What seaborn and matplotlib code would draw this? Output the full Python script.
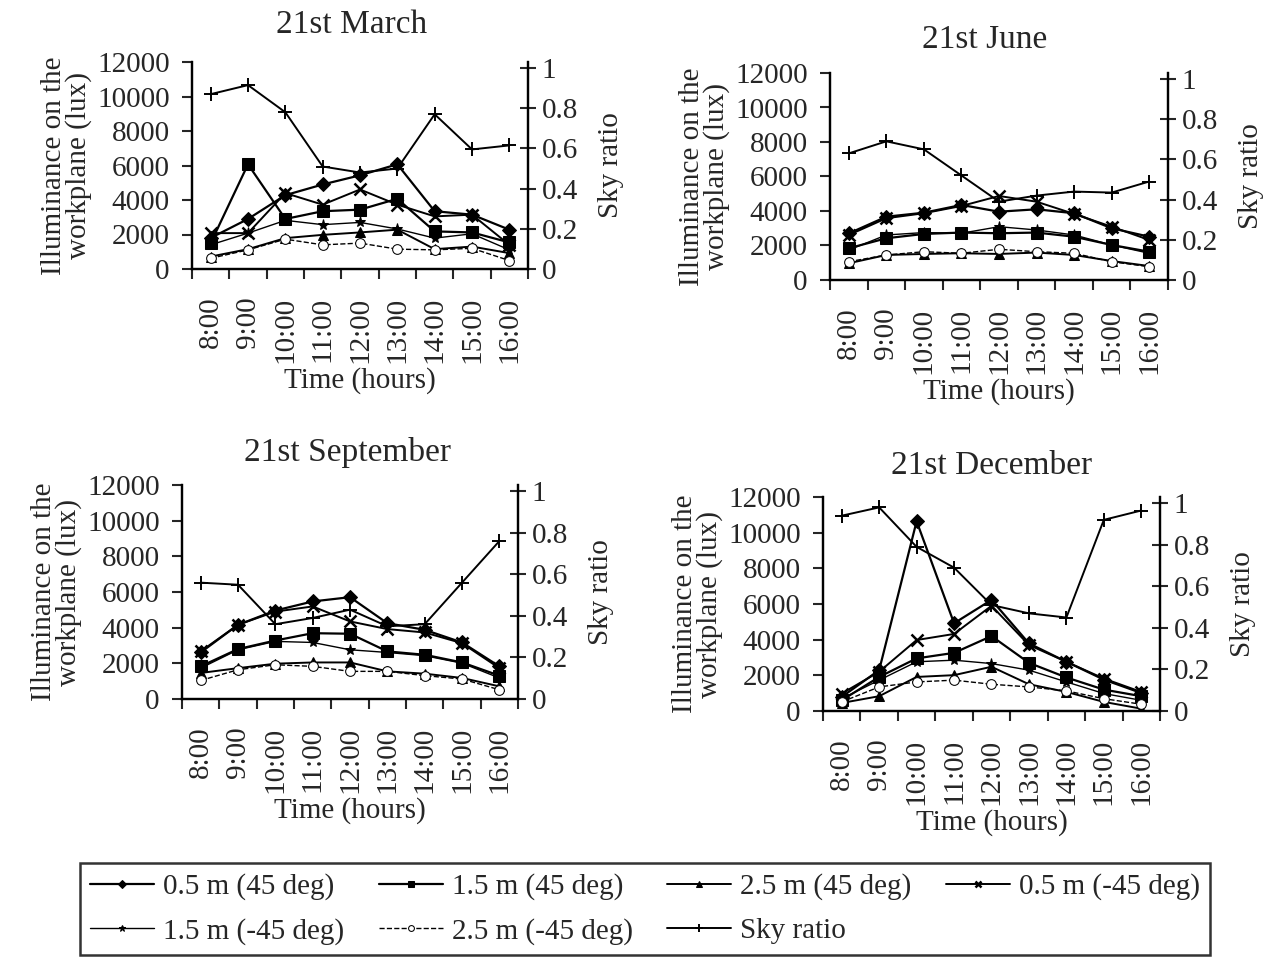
import pandas as pd
import matplotlib
matplotlib.use("Agg")
import matplotlib.pyplot as plt
import seaborn as sns
import numpy as np

hours = ["8:00", "9:00", "10:00", "11:00", "12:00", "13:00", "14:00", "15:00", "16:00"]

series_names = ["0.5 m (45 deg)", "1.5 m (45 deg)", "2.5 m (45 deg)",
                "0.5 m (-45 deg)", "1.5 m (-45 deg)", "2.5 m (-45 deg)"]

# 21st March
mar_05_p45 = [1800, 2900, 4280, 4900, 5430, 6070, 3350, 3150, 2280]
mar_15_p45 = [1500, 6070, 2900, 3350, 3440, 4070, 2180, 2120, 1540]
mar_25_p45 = [720, 1150, 1790, 1980, 2120, 2280, 1150, 1300, 920]
mar_05_m45 = [2080, 2080, 4400, 3730, 4610, 3730, 3050, 3150, 1400]
mar_15_m45 = [1400, 2080, 2820, 2570, 2700, 2320, 1790, 2040, 1110]
mar_25_m45 = [620, 1110, 1730, 1400, 1500, 1150, 1110, 1200, 490]
mar_sky = [0.87, 0.915, 0.78, 0.51, 0.48, 0.50, 0.77, 0.595, 0.615]

# 21st June
jun_05_p45 = [2700, 3670, 3900, 4350, 3960, 4100, 3870, 3000, 2510]
jun_15_p45 = [1840, 2420, 2670, 2750, 2710, 2750, 2510, 2030, 1640]
jun_25_p45 = [970, 1450, 1510, 1550, 1510, 1590, 1450, 1100, 810]
jun_05_m45 = [2610, 3580, 3870, 4290, 4870, 4540, 3830, 3090, 2320]
jun_15_m45 = [1740, 2610, 2750, 2710, 3090, 2900, 2610, 2030, 1550]
jun_25_m45 = [1060, 1450, 1640, 1550, 1780, 1640, 1550, 1060, 770]
jun_sky = [0.63, 0.69, 0.65, 0.52, 0.39, 0.42, 0.44, 0.435, 0.49]

# 21st September
sep_05_p45 = [2610, 4160, 4960, 5470, 5710, 4250, 3880, 3170, 1830]
sep_15_p45 = [1830, 2800, 3280, 3690, 3660, 2670, 2480, 2050, 1310]
sep_25_p45 = [1460, 1730, 1980, 2050, 2050, 1550, 1420, 1180, 710]
sep_05_m45 = [2670, 4160, 4900, 5190, 4350, 3920, 3730, 3130, 1730]
sep_15_m45 = [1730, 2760, 3230, 3170, 2760, 2610, 2430, 2010, 1180]
sep_25_m45 = [1040, 1640, 1920, 1830, 1550, 1550, 1310, 1120, 520]
sep_sky = [0.56, 0.55, 0.36, 0.39, 0.43, 0.35, 0.36, 0.56, 0.76]

# 21st December
dec_05_p45 = [790, 2290, 10640, 4920, 6230, 3790, 2760, 1760, 1010]
dec_15_p45 = [600, 1910, 2950, 3260, 4200, 2700, 1880, 1200, 830]
dec_25_p45 = [450, 830, 1910, 2010, 2480, 1500, 1070, 510, 130]
dec_05_m45 = [980, 2200, 3980, 4320, 5900, 3700, 2760, 1820, 1070]
dec_15_m45 = [690, 1730, 2760, 2850, 2660, 2290, 1630, 980, 600]
dec_25_m45 = [510, 1350, 1630, 1730, 1500, 1350, 1130, 690, 380]
dec_sky = [0.94, 0.98, 0.79, 0.69, 0.51, 0.47, 0.45, 0.92, 0.965]

panels = [
    ("21st March", [mar_05_p45, mar_15_p45, mar_25_p45, mar_05_m45, mar_15_m45, mar_25_m45], mar_sky,
     [192, 62, 528, 269], (352, 25)),
    ("21st June", [jun_05_p45, jun_15_p45, jun_25_p45, jun_05_m45, jun_15_m45, jun_25_m45], jun_sky,
     [830, 73, 1168, 280], (985, 40)),
    ("21st September", [sep_05_p45, sep_15_p45, sep_25_p45, sep_05_m45, sep_15_m45, sep_25_m45], sep_sky,
     [182, 485, 518, 699], (347, 452)),
    ("21st December", [dec_05_p45, dec_15_p45, dec_25_p45, dec_05_m45, dec_15_m45, dec_25_m45], dec_sky,
     [823, 497, 1160, 711], (992, 466)),
]

styles = [
    dict(marker="D", markersize=7, linestyle="-", linewidth=1.6, mfc="black"),
    dict(marker="s", markersize=8, linestyle="-", linewidth=1.6, mfc="black"),
    dict(marker="^", markersize=7, linestyle="-", linewidth=1.4, mfc="black"),
    dict(marker="x", markersize=8, linestyle="-", linewidth=1.4, mew=1.8),
    dict(marker="*", markersize=8, linestyle="-", linewidth=1.0),
    dict(marker="o", markersize=7, linestyle="--", linewidth=1.0, mfc="white"),
]
sky_style = dict(marker="+", markersize=10, linestyle="-", linewidth=1.4, mew=1.4)

sns.set_style("ticks")
plt.rcParams["font.family"] = ["Liberation Serif", "DejaVu Serif"]
plt.rcParams["font.size"] = 14

W, H = 1276, 965
fig = plt.figure(figsize=(W / 100, H / 100), dpi=100)

FS = 21
x = np.arange(1, len(hours) + 1)
handles = []
for title, vals, sky, (l, t, r, b), (tx, ty) in panels:
    ax = fig.add_axes([l / W, 1 - b / H, (r - l) / W, (b - t) / H])
    ax2 = ax.twinx()
    for name, v, st in zip(series_names, vals, styles):
        df = pd.DataFrame({"x": x, "y": v})
        sns.lineplot(data=df, x="x", y="y", ax=ax, color="black", label=name, legend=False,
                     mec="black", **st)
    df = pd.DataFrame({"x": x, "y": sky})
    sns.lineplot(data=df, x="x", y="y", ax=ax2, color="black", label="Sky ratio", legend=False,
                 mec="black", **sky_style)

    ax.set_xlim(0.5, 9.5)
    ax.set_ylim(0, 12000)
    ax.set_yticks(np.arange(0, 12001, 2000))
    ax.set_xticks(np.arange(0.5, 9.6, 1.0))
    ax.set_xticklabels([])
    ax.set_xticks(x, minor=True)
    ax.set_xticklabels(hours, minor=True, rotation=90, fontsize=FS)
    ax.tick_params(axis="x", which="minor", length=0, pad=20)
    ax.tick_params(axis="x", which="major", length=7, width=1.5, direction="out")
    ax.tick_params(axis="y", length=7, width=1.5, labelsize=FS, pad=9)
    ax2.set_ylim(0, 1.03)
    ax2.set_yticks([0, 0.2, 0.4, 0.6, 0.8, 1])
    ax2.set_yticklabels(["0", "0.2", "0.4", "0.6", "0.8", "1"])
    ax2.tick_params(axis="y", length=12, width=1.5, direction="inout", labelsize=FS, pad=4)

    for a in (ax, ax2):
        a.spines["top"].set_visible(False)
        for s in ("left", "right", "bottom"):
            a.spines[s].set_linewidth(1.6)
            a.spines[s].set_color("black")
    ax.set_xlabel("Time (hours)", fontsize=FS, labelpad=3)
    ax.set_ylabel("Illuminance on the\nworkplane (lux)", fontsize=FS, labelpad=4, linespacing=0.9)
    ax2.set_ylabel("Sky ratio", fontsize=FS, labelpad=14)
    fig.text(tx / W, 1 - ty / H, title, ha="center", va="center", fontsize=24)

    if not handles:
        handles = ax.get_lines()[:6] + ax2.get_lines()[:1]

labels = series_names + ["Sky ratio"]
order = [0, 4, 1, 5, 2, 6, 3]
leg = fig.legend([handles[i] for i in order], [labels[i] for i in order], ncol=4,
                 loc="lower left", bbox_to_anchor=(80 / W, 10 / H, 1130 / W, 95 / H),
                 mode="expand", frameon=True, fancybox=False, fontsize=FS,
                 handlelength=2.2, handletextpad=0.3, columnspacing=0.8, borderpad=0.35,
                 labelspacing=0.6, markerscale=0.6, borderaxespad=0)
leg.get_frame().set_edgecolor("black")
leg.get_frame().set_linewidth(1.8)

fig.savefig("out.png", dpi=100, facecolor="white")
